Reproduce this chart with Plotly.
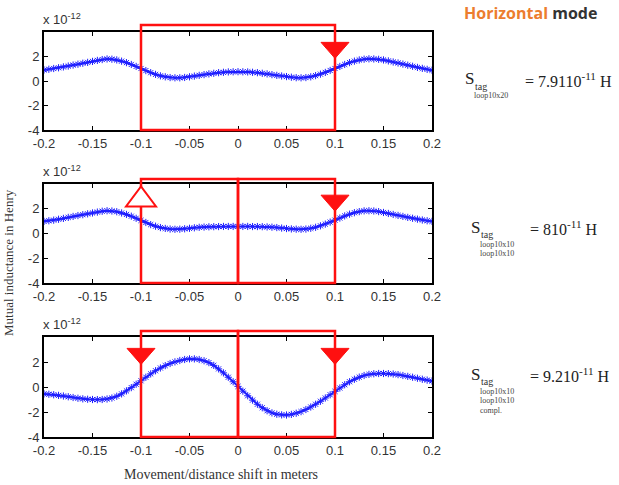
import plotly.graph_objects as go

# ---------------- data ----------------
x_pos = [round(-0.2 + 0.005 * i, 3) for i in range(81)]

top_vals = [0.90, 0.96, 1.02, 1.08, 1.15, 1.22, 1.30, 1.37, 1.45, 1.52, 1.60, 1.68, 1.75, 1.80, 1.78, 1.72,
            1.62, 1.50, 1.35, 1.19, 1.02, 0.85, 0.68, 0.54, 0.42, 0.34, 0.28, 0.26, 0.26, 0.29, 0.34, 0.40,
            0.46, 0.52, 0.58, 0.63, 0.68, 0.71, 0.74, 0.75, 0.76, 0.75, 0.74, 0.71, 0.68, 0.63, 0.58, 0.52,
            0.46, 0.41, 0.36, 0.31, 0.27, 0.26, 0.28, 0.34, 0.44, 0.56, 0.70, 0.86, 1.02, 1.19, 1.35, 1.50,
            1.62, 1.72, 1.78, 1.81, 1.80, 1.77, 1.72, 1.64, 1.55, 1.47, 1.38, 1.29, 1.20, 1.11, 1.03, 0.95, 0.88]

mid_vals = [0.98, 1.03, 1.08, 1.15, 1.22, 1.30, 1.38, 1.45, 1.52, 1.59, 1.66, 1.73, 1.80, 1.84, 1.82, 1.76,
            1.66, 1.54, 1.40, 1.23, 1.06, 0.89, 0.72, 0.59, 0.48, 0.41, 0.36, 0.34, 0.35, 0.38, 0.42, 0.46,
            0.50, 0.52, 0.54, 0.55, 0.56, 0.57, 0.57, 0.57, 0.57, 0.57, 0.57, 0.56, 0.56, 0.55, 0.53, 0.51,
            0.48, 0.44, 0.40, 0.37, 0.35, 0.34, 0.36, 0.42, 0.50, 0.62, 0.76, 0.92, 1.08, 1.25, 1.42, 1.56,
            1.68, 1.77, 1.83, 1.84, 1.82, 1.77, 1.70, 1.62, 1.54, 1.46, 1.38, 1.30, 1.23, 1.16, 1.09, 1.03, 0.98]

bot_vals = [-0.55, -0.58, -0.62, -0.67, -0.72, -0.78, -0.84, -0.90, -0.95, -0.98, -1.00, -1.01, -1.00, -0.96,
            -0.88, -0.74, -0.55, -0.31, -0.05, 0.22, 0.50, 0.78, 1.05, 1.30, 1.52, 1.71, 1.88, 2.01, 2.12,
            2.20, 2.25, 2.25, 2.20, 2.10, 1.95, 1.73, 1.45, 1.13, 0.78, 0.42, 0.05, -0.33, -0.70, -1.05,
            -1.38, -1.66, -1.90, -2.07, -2.18, -2.23, -2.24, -2.19, -2.10, -1.97, -1.80, -1.60, -1.38, -1.14,
            -0.88, -0.62, -0.35, -0.08, 0.18, 0.42, 0.62, 0.79, 0.92, 1.01, 1.06, 1.08, 1.08, 1.07, 1.04,
            0.99, 0.92, 0.85, 0.78, 0.70, 0.62, 0.55, 0.48]

series = [top_vals, mid_vals, bot_vals]

x_ticks = [-0.2, -0.15, -0.1, -0.05, 0, 0.05, 0.1, 0.15, 0.2]
x_ticktext = ["-0.2", "-0.15", "-0.1", "-0.05", "0", "0.05", "0.1", "0.15", "0.2"]
y_ticks = [-4, -2, 0, 2]
y_ticktext = ["-4", "-2", "0", "2"]
X_RANGE = [-0.2, 0.2]
Y_RANGE = [-4, 4]

# red boxes (x edges per panel) and triangle markers (x, y, kind) per panel
box_edges = [[-0.1, 0.1], [-0.1, 0.0, 0.1], [-0.1, 0.0, 0.1]]
tri_marks = [
    [(0.1, 2.5, "down")],
    [(-0.1, 3.0, "up_open"), (0.1, 2.45, "down")],
    [(-0.1, 2.45, "down"), (0.1, 2.45, "down")],
]

formula_main = ["= 7.9110<sup>-11</sup> H", "= 810<sup>-11</sup> H", "= 9.210<sup>-11</sup> H"]
formula_sub = [["loop10x20"], ["loop10x10", "loop10x10"], ["loop10x10", "loop10x10", "compl."]]

# ---------------- layout ----------------
W, H = 619, 485
PX_L, PX_R = 44, 432
panel_px = [(32, 130), (184, 283), (337, 437)]  # top, bottom in pixels
box_top_px = [25, 179, 331]

def px2fx(px):
    return px / W

def px2fy(py):
    return 1 - py / H

fig = go.Figure()
RED = "#FF1010"
BLUE = "#1F1FFF"
SERIF = "Liberation Serif, Times New Roman, serif"
SANS = "Liberation Sans, Arial, sans-serif"

for i, vals in enumerate(series):
    n = "" if i == 0 else str(i + 1)
    fig.add_trace(go.Scatter(
        x=x_pos, y=vals, mode="lines+markers",
        line=dict(color=BLUE, width=2),
        marker=dict(symbol="asterisk-open", size=6, color=BLUE, line=dict(color=BLUE, width=1)),
        xaxis="x" + n, yaxis="y" + n, showlegend=False, hoverinfo="skip"))

axis_common = dict(showline=True, linewidth=2, linecolor="black", mirror="ticks", ticks="inside",
                   ticklen=4, tickwidth=1, tickcolor="black", showgrid=False, zeroline=False,
                   automargin=False,
                   tickfont=dict(family=SANS, size=13, color="#333333"))

shapes = []
annotations = []
for i in range(3):
    n = "" if i == 0 else str(i + 1)
    top_px, bot_px = panel_px[i]
    ydom = [px2fy(bot_px), px2fy(top_px)]
    fig.layout["xaxis" + n] = dict(domain=[px2fx(PX_L), px2fx(PX_R)], range=X_RANGE, anchor="y" + n,
                                   tickvals=x_ticks, ticktext=x_ticktext, **axis_common)
    fig.layout["yaxis" + n] = dict(domain=ydom, range=Y_RANGE, anchor="x" + n,
                                   tickvals=y_ticks, ticktext=y_ticktext, **axis_common)
    # red boxes in domain units
    edges = box_edges[i]
    ytop_dom = (bot_px - box_top_px[i]) / (bot_px - top_px)
    for a, b in zip(edges[:-1], edges[1:]):
        xa = (a - X_RANGE[0]) / (X_RANGE[1] - X_RANGE[0])
        xb = (b - X_RANGE[0]) / (X_RANGE[1] - X_RANGE[0])
        shapes.append(dict(type="rect", xref="x" + n + " domain", yref="y" + n + " domain",
                           x0=xa, x1=xb, y0=0, y1=ytop_dom, line=dict(color=RED, width=2.5),
                           fillcolor="rgba(0,0,0,0)", layer="above"))
    # triangles
    for (tx, ty, kind) in tri_marks[i]:
        if kind == "down":
            path = "M-14,8 L14,8 L0,-8 Z"
            shapes.append(dict(type="path", xref="x" + n, yref="y" + n, xsizemode="pixel", ysizemode="pixel",
                               xanchor=tx, yanchor=ty, path=path, fillcolor=RED, line=dict(color=RED, width=1),
                               layer="above"))
        else:
            path = "M-15,-10 L15,-10 L0,10 Z"
            shapes.append(dict(type="path", xref="x" + n, yref="y" + n, xsizemode="pixel", ysizemode="pixel",
                               xanchor=tx, yanchor=ty, path=path, fillcolor="white", line=dict(color=RED, width=2),
                               layer="above"))
    # x 10^-12
    annotations.append(dict(text="x 10<sup>-12</sup>", xref="paper", yref="paper", x=px2fx(41),
                            y=px2fy(top_px - 3), xanchor="left", yanchor="bottom", showarrow=False,
                            font=dict(family=SANS, size=13, color="#333333")))

# formulas
s_y = [79, 227, 374]
s_x = [463, 469, 469]
for i in range(3):
    sx = s_x[i]
    annotations.append(dict(text="S", xref="paper", yref="paper", x=px2fx(sx), y=px2fy(s_y[i]),
                            xanchor="left", yanchor="middle", showarrow=False,
                            font=dict(family=SERIF, size=17, color="#222222")))
    annotations.append(dict(text="tag", xref="paper", yref="paper", x=px2fx(sx + 11), y=px2fy(s_y[i] + 7),
                            xanchor="left", yanchor="middle", showarrow=False, borderpad=0,
                            font=dict(family=SERIF, size=10, color="#333333")))
    for k, line in enumerate(formula_sub[i]):
        annotations.append(dict(text=line, xref="paper", yref="paper", x=px2fx(sx + 10),
                                y=px2fy(s_y[i] + 17 + 9.5 * k), xanchor="left", yanchor="middle",
                                showarrow=False, borderpad=0,
                                font=dict(family=SERIF, size=8, color="#444444")))
    annotations.append(dict(text=formula_main[i], xref="paper", yref="paper", x=px2fx(523 if i == 0 else 528),
                            y=px2fy(s_y[i] + 1), xanchor="left", yanchor="middle", showarrow=False,
                            font=dict(family=SERIF, size=16, color="#222222")))

annotations.append(dict(text="<b><span style='color:#EC7D2E'>Horizontal</span> mode</b>", xref="paper",
                        yref="paper", x=px2fx(530), y=px2fy(13), xanchor="center", yanchor="middle",
                        showarrow=False, font=dict(family="Open Sans, Lato, sans-serif", size=16, color="#333333")))

annotations.append(dict(text="Mutual inductance in Henry", xref="paper", yref="paper", x=px2fx(8),
                        y=px2fy(263), xanchor="center", yanchor="middle", textangle=-90, showarrow=False,
                        font=dict(family=SERIF, size=13, color="#333333")))
annotations.append(dict(text="Movement/distance shift in meters", xref="paper", yref="paper", x=px2fx(221),
                        y=px2fy(474), xanchor="center", yanchor="middle", showarrow=False,
                        font=dict(family=SERIF, size=14, color="#333333")))

fig.update_layout(width=W, height=H, margin=dict(l=0, r=0, t=0, b=0, autoexpand=False), paper_bgcolor="white",
                  plot_bgcolor="white", shapes=shapes, annotations=annotations, showlegend=False)

fig.write_html("out.html")
